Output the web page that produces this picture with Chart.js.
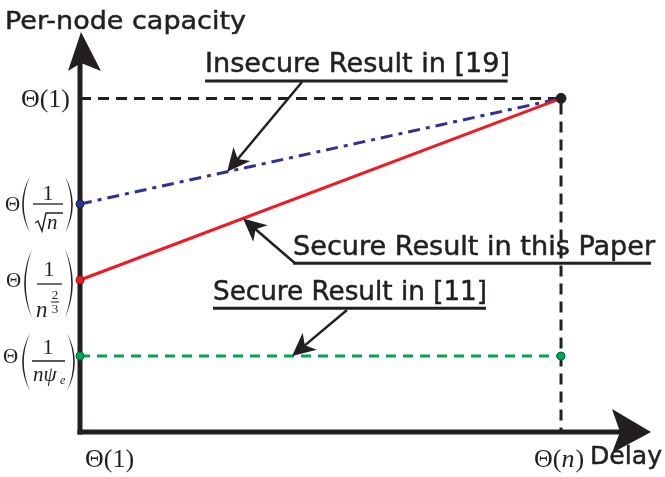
<!DOCTYPE html>
<html><head><meta charset="utf-8">
<script src="https://cdn.jsdelivr.net/npm/chart.js@4/dist/chart.umd.min.js"></script>
<style>html,body{margin:0;padding:0;background:#fff}#wrap{width:665px;height:477px;position:relative}</style>
</head><body><div id="wrap"><canvas id="c" width="665" height="477"></canvas></div>
<script>
// ---- data (schematic levels) ----
const xPositions = [0, 1];                 // Θ(1), Θ(n)
const xTickLabels = ['Θ(1)', 'Θ(n)'];
const yLevelNames = ['1/(nψe)', '1/n^(2/3)', '1/√n', '1'];
const yLevels = [1, 2, 3, 4.39];
const insecure19 = [3, 4.39];
const secureThisPaper = [2, 4.39];
const secure11 = [1, 1];
const boundLevel = 4.39;
const seriesNames = ['Insecure Result in [19]', 'Secure Result in this Paper', 'Secure Result in [11]'];
const xAxisTitle = 'Delay';
const yAxisTitle = 'Per-node capacity';

const INK = '#231f20';
const SANS = '"DejaVu Sans", sans-serif';
const SERIF = '"Liberation Serif", "DejaVu Serif", serif';

function pts(xs, ys){ return xs.map((x,i)=>({x:x, y:ys[i]})); }

function fitText(ctx, text, x, y, size, width, family, color){
  ctx.save();
  ctx.font = size + 'px ' + family;
  ctx.fillStyle = color || INK;
  ctx.strokeStyle = color || INK;
  ctx.lineWidth = 0.5;
  ctx.textBaseline = 'alphabetic';
  ctx.textAlign = 'left';
  const w = ctx.measureText(text).width;
  ctx.translate(x, y);
  ctx.scale(width / w, 1);
  ctx.fillText(text, 0, 0);
  ctx.strokeText(text, 0, 0);
  ctx.restore();
}

function arrowHead(ctx, fx, fy, tx, ty, L, H){
  const dx = tx - fx, dy = ty - fy, len = Math.hypot(dx, dy);
  const ux = dx/len, uy = dy/len, nx = -uy, ny = ux;
  ctx.beginPath();
  ctx.moveTo(tx, ty);
  ctx.lineTo(tx - ux*L + nx*H, ty - uy*L + ny*H);
  ctx.lineTo(tx - ux*L*0.72, ty - uy*L*0.72);
  ctx.lineTo(tx - ux*L - nx*H, ty - uy*L - ny*H);
  ctx.closePath();
  ctx.fill();
}

function pointer(ctx, fx, fy, tx, ty){
  ctx.save();
  ctx.strokeStyle = INK; ctx.fillStyle = INK; ctx.lineWidth = 2.5;
  const dx = tx - fx, dy = ty - fy, len = Math.hypot(dx, dy);
  ctx.beginPath();
  ctx.moveTo(fx, fy);
  ctx.lineTo(tx - dx/len*15, ty - dy/len*15);
  ctx.stroke();
  arrowHead(ctx, fx, fy, tx, ty, 23, 11);
  ctx.restore();
}

function paren(ctx, x, top, bot, left){
  const w = 8, mid = (top + bot) / 2;
  ctx.save();
  ctx.fillStyle = INK;
  ctx.beginPath();
  if (left){
    ctx.moveTo(x + w, top);
    ctx.quadraticCurveTo(x - w*0.95, mid, x + w, bot);
    ctx.quadraticCurveTo(x - w*0.55, mid, x + w, top);
  } else {
    ctx.moveTo(x - w, top);
    ctx.quadraticCurveTo(x + w*0.95, mid, x - w, bot);
    ctx.quadraticCurveTo(x + w*0.55, mid, x - w, top);
  }
  ctx.fill();
  ctx.restore();
}

function txt(ctx, s, x, y, font, align){
  ctx.font = font; ctx.textAlign = align || 'left'; ctx.textBaseline = 'alphabetic';
  ctx.fillText(s, x, y);
}

function hbar(ctx, x1, x2, y, w){
  ctx.beginPath(); ctx.lineWidth = w || 1.3; ctx.moveTo(x1, y); ctx.lineTo(x2, y); ctx.stroke();
}

const axesPlugin = {
  id: 'axesPlugin',
  beforeDatasetsDraw(chart){
    const ctx = chart.ctx, xs = chart.scales.x, ys = chart.scales.y, ca = chart.chartArea;
    const ax = xs.getPixelForValue(0), ay = ys.getPixelForValue(0);
    ctx.save();
    ctx.strokeStyle = INK; ctx.fillStyle = INK; ctx.lineWidth = 5; ctx.lineCap = 'butt';
    ctx.beginPath(); ctx.moveTo(ax, ay + 2.5); ctx.lineTo(ax, ca.top + 30); ctx.stroke();
    ctx.beginPath();
    ctx.moveTo(ax + 1, ca.top + 2);
    ctx.lineTo(ax + 21, ca.top + 41);
    ctx.lineTo(ax + 1, ca.top + 33);
    ctx.lineTo(ax - 12, ca.top + 41);
    ctx.closePath(); ctx.fill();
    ctx.beginPath(); ctx.moveTo(ax - 2.5, ay); ctx.lineTo(ca.right - 30, ay); ctx.stroke();
    ctx.beginPath();
    ctx.moveTo(ca.right + 1, ay);
    ctx.lineTo(ca.right - 38, ay - 23);
    ctx.lineTo(ca.right - 30, ay);
    ctx.lineTo(ca.right - 38, ay + 21);
    ctx.closePath(); ctx.fill();
    ctx.restore();
  },
  afterDatasetsDraw(chart){
    const ctx = chart.ctx, xs = chart.scales.x, ys = chart.scales.y;
    const ax = xs.getPixelForValue(0), ay = ys.getPixelForValue(0);
    const X = v => xs.getPixelForValue(v), Y = v => ys.getPixelForValue(v);
    ctx.save();
    ctx.fillStyle = INK; ctx.strokeStyle = INK;

    fitText(ctx, yAxisTitle, 5, 29, 25, 241, SANS);
    fitText(ctx, xAxisTitle, 590, 464, 25, 72, SANS);

    const xTickFont = '26px ' + SERIF;
    txt(ctx, 'Θ(1)', X(xPositions[0]) + 5, ay + 35, xTickFont);
    {
      let x0 = X(xPositions[1]) - 27, yb = ay + 35;
      txt(ctx, 'Θ(', x0, yb, xTickFont);
      ctx.font = xTickFont; let w = ctx.measureText('Θ(').width;
      txt(ctx, 'n', x0 + w, yb, 'italic 26px ' + SERIF);
      ctx.font = 'italic 26px ' + SERIF; let w2 = ctx.measureText('n').width;
      txt(ctx, ')', x0 + w + w2 + 1, yb, xTickFont);
    }

    txt(ctx, 'Θ(1)', ax - 10, Y(yLevels[3]) + 9, '26px ' + SERIF, 'right');
    {
      const cy = Y(yLevels[2]);
      txt(ctx, 'Θ', ax - 75, cy + 7, '21px ' + SERIF);
      paren(ctx, ax - 58, cy - 28, cy + 29, true);
      paren(ctx, ax - 7, cy - 28, cy + 29, false);
      txt(ctx, '1', ax - 32, cy - 4, '22px ' + SERIF, 'center');
      hbar(ctx, ax - 47, ax - 17, cy);
      ctx.beginPath(); ctx.lineWidth = 1.4;
      ctx.moveTo(ax - 45, cy + 19); ctx.lineTo(ax - 42, cy + 17);
      ctx.lineTo(ax - 38, cy + 27); ctx.lineTo(ax - 34, cy + 9); ctx.lineTo(ax - 17, cy + 9);
      ctx.stroke();
      txt(ctx, 'n', ax - 33, cy + 25, 'italic 21px ' + SERIF);
    }
    {
      const cy = Y(yLevels[1]);
      txt(ctx, 'Θ', ax - 74, cy + 7, '21px ' + SERIF);
      paren(ctx, ax - 56, cy - 31, cy + 38, true);
      paren(ctx, ax - 7, cy - 31, cy + 38, false);
      txt(ctx, '1', ax - 31, cy - 4, '22px ' + SERIF, 'center');
      hbar(ctx, ax - 43, ax - 18, cy + 4);
      txt(ctx, 'n', ax - 44, cy + 37, 'italic 23px ' + SERIF);
      txt(ctx, '2', ax - 25, cy + 19, '13px ' + SERIF, 'center');
      hbar(ctx, ax - 29, ax - 21, cy + 22, 1);
      txt(ctx, '3', ax - 25, cy + 33, '13px ' + SERIF, 'center');
    }
    {
      const cy = Y(yLevels[0]);
      txt(ctx, 'Θ', ax - 77, cy + 7, '21px ' + SERIF);
      paren(ctx, ax - 58, cy - 23, cy + 35, true);
      paren(ctx, ax - 5, cy - 23, cy + 35, false);
      txt(ctx, '1', ax - 32, cy - 2, '22px ' + SERIF, 'center');
      hbar(ctx, ax - 48, ax - 15, cy + 5);
      txt(ctx, 'nψ', ax - 47, cy + 25, 'italic 21px ' + SERIF);
      txt(ctx, 'e', ax - 20, cy + 28, 'italic 12px ' + SERIF);
    }

    const notes = [
      {text: seriesNames[0], x: 0.26, base: 4.74, ul: 4.62, ulEnd: 0.889, w: 305,
       from: [0.4615, 4.605], tipT: 0.306, line: insecure19},
      {text: seriesNames[1], x: 0.443, base: 2.33, ul: 2.22, ulEnd: 1.187, w: 362,
       from: [0.447, 2.22], tipT: 0.339, line: secureThisPaper},
      {text: seriesNames[2], x: 0.2765, base: 1.737, ul: 1.63, ulEnd: 0.844, w: 274,
       from: [0.555, 1.605], tipT: 0.441, line: secure11}
    ];
    notes.forEach(n => {
      fitText(ctx, n.text, X(n.x), Y(n.base), 26, n.w, SANS);
      ctx.lineWidth = 3; ctx.strokeStyle = INK;
      ctx.beginPath(); ctx.moveTo(X(n.x), Y(n.ul)); ctx.lineTo(X(n.ulEnd), Y(n.ul)); ctx.stroke();
      const ty = n.line[0] + (n.line[1] - n.line[0]) * n.tipT;
      pointer(ctx, X(n.from[0]), Y(n.from[1]), X(n.tipT), Y(ty));
    });
    ctx.restore();
  }
};

new Chart(document.getElementById('c'), {
  type: 'scatter',
  data: {
    datasets: [
      { label: 'end', data: [{x: xPositions[1], y: boundLevel}], pointRadius: 5,
        pointBackgroundColor: INK, pointBorderColor: INK, clip: false },
      { label: seriesNames[1], data: pts(xPositions, secureThisPaper), showLine: true,
        borderColor: '#ed1c24', borderWidth: 3, pointRadius: [4, 0],
        pointBackgroundColor: '#ed1c24', pointBorderColor: '#9e1116', pointBorderWidth: 1, clip: false },
      { label: seriesNames[0], data: pts(xPositions, insecure19), showLine: true,
        borderColor: '#2e3192', borderWidth: 3, borderDash: [12, 6, 4, 6], pointRadius: [4, 0],
        pointBackgroundColor: '#2e3192', pointBorderColor: '#1b1d60', pointBorderWidth: 1, clip: false },
      { label: seriesNames[2], data: pts(xPositions, secure11), showLine: true,
        borderColor: '#00a651', borderWidth: 3, borderDash: [10, 7], pointRadius: [4, 4],
        pointBackgroundColor: '#00a651', pointBorderColor: '#006b33', pointBorderWidth: 1, clip: false },
      { label: 'bound', data: [{x: xPositions[0], y: boundLevel}, {x: xPositions[1], y: boundLevel}, {x: xPositions[1], y: 0}],
        showLine: true, borderColor: INK, borderWidth: 3, borderDash: [11, 7], pointRadius: 0, clip: false }
    ]
  },
  options: {
    responsive: false,
    animation: false,
    events: [],
    layout: { padding: { left: 80, right: 15, top: 30, bottom: 45 } },
    scales: {
      x: { type: 'linear', min: 0, max: 1.185, display: false },
      y: { type: 'linear', min: 0, max: 5.29, display: false }
    },
    plugins: { legend: { display: false }, tooltip: { enabled: false } }
  },
  plugins: [axesPlugin]
});
</script>
</body></html>
